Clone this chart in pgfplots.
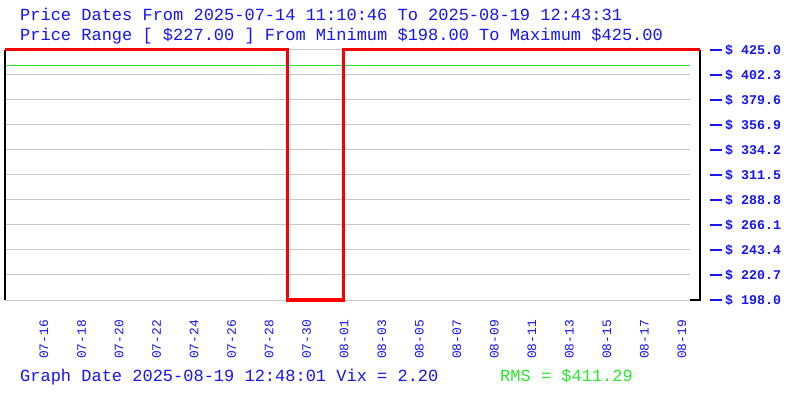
\documentclass[border=0pt]{standalone}
\usepackage{pgfplots}
\pgfplotsset{compat=1.18}
\usepackage{fontspec}
\setmainfont{Liberation Mono}
\definecolor{tblue}{RGB}{20,20,245}
\definecolor{tgreen}{RGB}{40,232,40}
\definecolor{tred}{RGB}{250,0,0}
\definecolor{tgrid}{RGB}{200,200,200}
\begin{document}
\begin{tikzpicture}[x=1bp,y=1bp]
\begin{axis}[
  scale only axis, width=695bp, height=250bp,
  xmin=-2.078, xmax=34.96, ymin=198, ymax=425,
  clip=false,
  axis line style={draw=none},
  major tick length=0pt,
  xtick={0,2,...,34},
  xticklabels={07-16,07-18,07-20,07-22,07-24,07-26,07-28,07-30,08-01,08-03,08-05,08-07,08-09,08-11,08-13,08-15,08-17,08-19},
  xticklabel style={rotate=90, anchor=east, inner sep=0pt, font=\fontsize{12.9bp}{14bp}\selectfont, text=tblue},
  xticklabel shift=20bp,
  ytick={198.0,220.7,243.4,266.1,288.8,311.5,334.2,356.9,379.6,402.3,425.0},
  yticklabel pos=right,
  yticklabel style={anchor=west, inner sep=0pt, xshift=10bp, font=\fontsize{13.3bp}{15bp}\selectfont, text=tblue},
  yticklabel={\textcolor{tblue}{\rule[3.7bp]{12bp}{1.8bp}}\hspace{3bp}\textbf{\$ \pgfmathprintnumber[fixed,fixed zerofill,precision=1,assume math mode=true]{\tick}}},
  ytick style={draw=none}, xtick style={draw=none},
]
\coordinate (ll) at (rel axis cs:0,0);
\pgfplotsinvokeforeach{198.0,220.7,243.4,266.1,288.8,311.5,334.2,356.9,379.6,402.3,425.0}{
  \addplot[tgrid, line width=1bp, forget plot] coordinates {(-2.078,#1) (34.43,#1)};
}
\addplot[tgreen, line width=1bp] coordinates {(-2.078,411.29) (34.43,411.29)};
\draw[black, line width=1.3bp] (axis cs:-2.078,198) -- (axis cs:-2.078,425);
\draw[black, line width=1.3bp] (axis cs:34.43,198) -- (axis cs:34.96,198) -- (axis cs:34.96,425);
\addplot[tred, line width=3bp, line join=miter] coordinates {
  (-2.078,425) (13.0,425) (13.0,198) (15.94,198) (15.94,425) (34.96,425)
};
\end{axis}
\path[use as bounding box] ([shift={(-5bp,-100bp)}]ll) rectangle ([shift={(795bp,300bp)}]ll);
\node[anchor=base west, inner sep=0pt, text=tblue, font=\fontsize{17bp}{20bp}\selectfont] at ([shift={(15bp,279bp)}]ll) {Price Dates From 2025-07-14 11:10:46 To 2025-08-19 12:43:31};
\node[anchor=base west, inner sep=0pt, text=tblue, font=\fontsize{17bp}{20bp}\selectfont] at ([shift={(15bp,259bp)}]ll) {Price Range [ \$227.00 ] From Minimum \$198.00 To Maximum \$425.00};
\node[anchor=base west, inner sep=0pt, text=tblue, font=\fontsize{17bp}{20bp}\selectfont] at ([shift={(15bp,-81bp)}]ll) {Graph Date 2025-08-19 12:48:01 Vix = 2.20};
\node[anchor=base west, inner sep=0pt, text=tgreen, font=\fontsize{17bp}{20bp}\selectfont] at ([shift={(495bp,-81bp)}]ll) {RMS = \$411.29};
\end{tikzpicture}
\end{document}
